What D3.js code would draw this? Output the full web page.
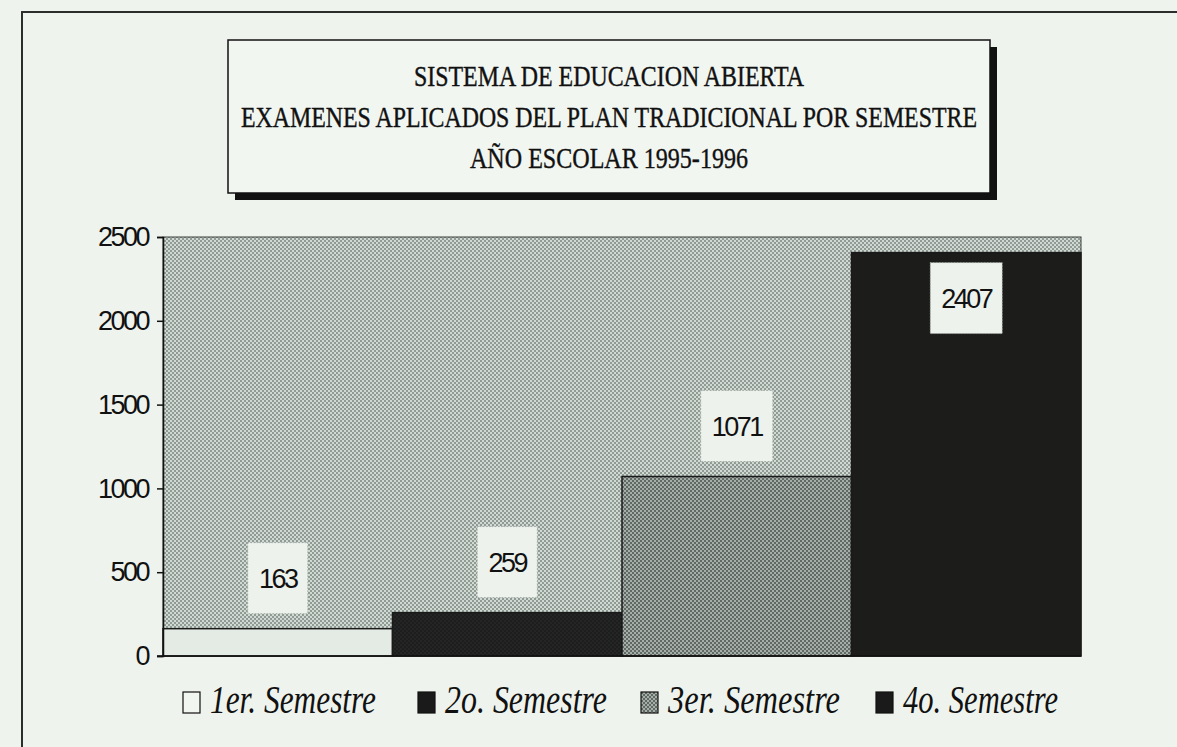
<!DOCTYPE html>
<html lang="es">
<head>
    <meta charset="UTF-8">
    <title>Examenes aplicados por semestre</title>
    <script src="https://cdn.jsdelivr.net/npm/d3@7"></script>
    <style>
        body {
            margin: 0;
            background: #eef3ed;
        }
        .tick text {
            font-family: "Liberation Sans", Arial, sans-serif;
            font-size: 27px;
            letter-spacing: -2.5px;
            fill: #111;
        }
        .title {
            font-family: "Liberation Serif", "DejaVu Serif", serif;
            font-size: 30px;
            fill: #111;
            stroke: #111;
            stroke-width: 0.4px;
        }
        .legend text {
            font-family: "Liberation Serif", "DejaVu Serif", serif;
            font-style: italic;
            font-size: 39px;
            fill: #111;
        }
        .value {
            font-family: "Liberation Sans", Arial, sans-serif;
            font-size: 27px;
            letter-spacing: -2.5px;
            fill: #111;
        }
    </style>
</head>
<body>
<div id="canvas"></div>
<script>

    const semesters = ['1er. Semestre', '2o. Semestre', '3er. Semestre', '4o. Semestre'];
    const exams = [163, 259, 1071, 2407];
    const yTicks = [0, 500, 1000, 1500, 2000, 2500];
    const titleLines = [
        'SISTEMA DE EDUCACION ABIERTA',
        'EXAMENES APLICADOS DEL PLAN TRADICIONAL POR SEMESTRE',
        'AÑO ESCOLAR 1995-1996'
    ];

    const width = 1177;
    const height = 747;
    const plot = {left: 163, right: 1081, top: 237, bottom: 656};

    const svg = d3.select('#canvas')
        .append('svg')
        .attr('width', width)
        .attr('height', height);

    // dotted screen patterns, like the printed halftone
    const defs = svg.append('defs');
    function dots(id, base, dot, step, r) {
        const p = defs.append('pattern')
            .attr('id', id)
            .attr('width', step)
            .attr('height', step)
            .attr('patternUnits', 'userSpaceOnUse');
        p.append('rect').attr('width', step).attr('height', step).attr('fill', base);
        p.append('circle').attr('cx', step / 4).attr('cy', step / 4).attr('r', r).attr('fill', dot);
        p.append('circle').attr('cx', step * 3 / 4).attr('cy', step * 3 / 4).attr('r', r).attr('fill', dot);
    }
    dots('bgDots', '#d0dad3', '#74807a', 4, 0.95);
    dots('midDots', '#a5aea9', '#4a524e', 4, 1.0);
    dots('darkDots', '#1c1d1c', '#2e312f', 4, 0.8);

    const barFills = ['#e4ebe5', 'url(#darkDots)', 'url(#midDots)', '#1c1c1b'];

    // outer frame of the scanned page
    svg.append('path')
        .attr('d', `M22,${height} V12 H${width}`)
        .attr('fill', 'none')
        .attr('stroke', '#2a2d2b')
        .attr('stroke-width', 2);

    // title box with drop shadow
    const box = {x: 228, y: 40, w: 762, h: 153};
    svg.append('rect')
        .attr('x', box.x + 7).attr('y', box.y + 7)
        .attr('width', box.w).attr('height', box.h)
        .attr('fill', '#111');
    svg.append('rect')
        .attr('x', box.x).attr('y', box.y)
        .attr('width', box.w).attr('height', box.h)
        .attr('fill', '#f2f6f1')
        .attr('stroke', '#111')
        .attr('stroke-width', 1.5);

    const titleWidths = [390, 736, 278];
    svg.selectAll('.title')
        .data(titleLines)
        .enter()
        .append('text')
        .attr('class', 'title')
        .attr('x', box.x + box.w / 2)
        .attr('y', (d, i) => 86 + i * 41)
        .attr('text-anchor', 'middle')
        .attr('textLength', (d, i) => titleWidths[i])
        .attr('lengthAdjust', 'spacingAndGlyphs')
        .text(d => d);

    // scales
    const x = d3.scaleBand()
        .domain(semesters)
        .range([plot.left, plot.right])
        .padding(0);

    const y = d3.scaleLinear()
        .domain([0, 2500])
        .range([plot.bottom, plot.top]);

    // plot background
    svg.append('rect')
        .attr('x', plot.left)
        .attr('y', plot.top)
        .attr('width', plot.right - plot.left)
        .attr('height', plot.bottom - plot.top)
        .attr('fill', 'url(#bgDots)')
        .attr('stroke', '#3a3f3c')
        .attr('stroke-width', 1);

    // bars
    svg.selectAll('.bar')
        .data(exams)
        .enter()
        .append('rect')
        .attr('class', 'bar')
        .attr('x', (d, i) => x(semesters[i]))
        .attr('y', d => y(d))
        .attr('width', x.bandwidth())
        .attr('height', d => y(0) - y(d))
        .attr('fill', (d, i) => barFills[i])
        .attr('stroke', '#1a1a1a')
        .attr('stroke-width', 1.5);

    // value labels
    const labels = svg.selectAll('.label')
        .data(exams)
        .enter()
        .append('g')
        .attr('class', 'label')
        .attr('transform', (d, i) => {
            const cx = x(semesters[i]) + x.bandwidth() / 2;
            const cy = d > 2000 ? y(d) + 46 : y(d) - 50;
            return `translate(${cx},${cy})`;
        });

    labels.append('rect')
        .attr('x', d => d >= 1000 ? -36 : -30)
        .attr('y', -36)
        .attr('width', d => d >= 1000 ? 72 : 60)
        .attr('height', 71)
        .attr('fill', '#edf2ec')
        .attr('stroke', '#9aa39d')
        .attr('stroke-dasharray', '1 2');

    labels.append('text')
        .attr('class', 'value')
        .attr('text-anchor', 'middle')
        .attr('y', 9)
        .text(d => d);

    // axes
    svg.append('g')
        .attr('transform', `translate(${plot.left},0)`)
        .call(d3.axisLeft(y).tickValues(yTicks).tickFormat(d3.format('d')).tickSize(6).tickPadding(9))
        .call(g => g.select('.domain').attr('stroke', '#111').attr('stroke-width', 1.5))
        .call(g => g.selectAll('.tick line').attr('stroke', '#111').attr('stroke-width', 1.5));

    svg.append('line')
        .attr('x1', plot.left - 6)
        .attr('x2', plot.right)
        .attr('y1', y(0))
        .attr('y2', y(0))
        .attr('stroke', '#111')
        .attr('stroke-width', 1.5);

    // legend
    const legendX = [183, 418, 641, 876];
    const legendWidths = [166, 162, 172, 155];
    const legendFills = ['#f2f6f1', '#1a1a1a', 'url(#midDots)', '#1a1a1a'];

    const legend = svg.selectAll('.legend')
        .data(semesters)
        .enter()
        .append('g')
        .attr('class', 'legend')
        .attr('transform', (d, i) => `translate(${legendX[i]},692)`);

    legend.append('rect')
        .attr('width', 17)
        .attr('height', 21)
        .attr('fill', (d, i) => legendFills[i])
        .attr('stroke', '#111')
        .attr('stroke-width', 1.2);

    legend.append('text')
        .attr('x', 27)
        .attr('y', 21)
        .attr('textLength', (d, i) => legendWidths[i])
        .attr('lengthAdjust', 'spacingAndGlyphs')
        .text(d => d);

</script>
</body>
</html>
